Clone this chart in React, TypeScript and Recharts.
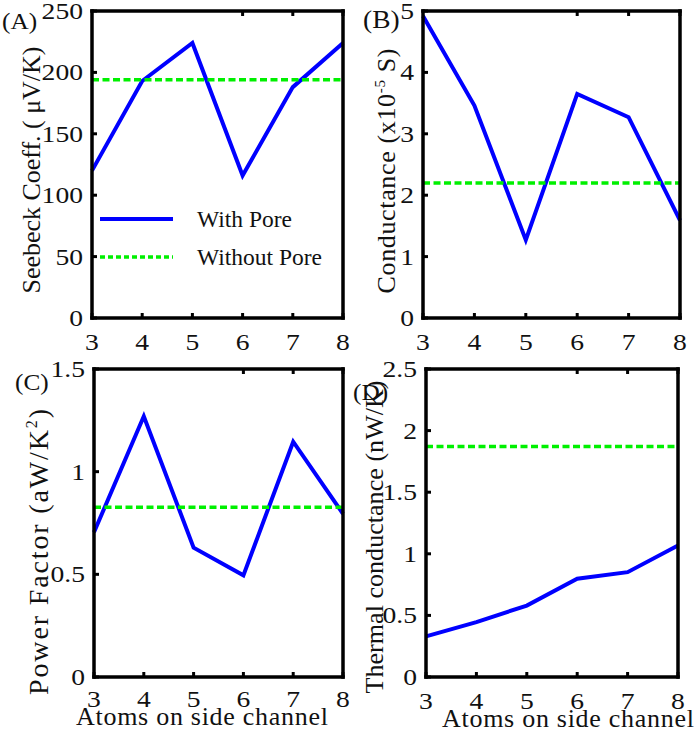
import React from 'react';
import { LineChart, Line, XAxis, YAxis, Legend } from 'recharts';

// ---------- data ----------
const atoms = [3, 4, 5, 6, 7, 8];

const seebeckWithPore = [120, 193, 224, 116, 188, 224];
const seebeckWithoutPore = 194;
const seebeckTicks = [0, 50, 100, 150, 200, 250];

const conductanceWithPore = [4.92, 3.46, 1.27, 3.65, 3.27, 1.59];
const conductanceWithoutPore = 2.2;
const conductanceTicks = [0, 1, 2, 3, 4, 5];

const powerFactorWithPore = [0.705, 1.27, 0.63, 0.495, 1.146, 0.795];
const powerFactorWithoutPore = 0.827;
const powerFactorTicks = [0, 0.5, 1, 1.5];

const thermalWithPore = [0.33, 0.446, 0.58, 0.797, 0.851, 1.068];
const thermalWithoutPore = 1.87;
const thermalTicks = [0, 0.5, 1, 1.5, 2, 2.5];

const seriesNames = ['With Pore', 'Without Pore'];
const xTitle = 'Atoms on side channel';

// ---------- styles ----------
const SERIF = '"Liberation Serif", "Times New Roman", serif';
const INK = '#111';
const BLUE = '#0000ff';
const GREEN = '#00f000';
const DASH = '7 3.5';
const TICK_LEN = 5;
const FRAME = { stroke: '#000', strokeWidth: 3.5, strokeLinecap: 'square' as const };

const buildRows = (withPore: number[], withoutPore: number) =>
  atoms.map((a, i) => ({ atoms: a, withPore: withPore[i], withoutPore }));

const LeftTick = (props: any) => {
  const { x, y, payload } = props;
  return (
    <g>
      <line x1={x} x2={x + TICK_LEN} y1={y} y2={y} stroke="#000" strokeWidth={3} />
      <text
        transform={`translate(${x - 9}, ${y + 8}) scale(1.15, 1)`}
        textAnchor="end"
        fontSize={24}
        fontFamily={SERIF}
        fill={INK}
      >
        {payload.value}
      </text>
    </g>
  );
};

const makeBottomTick = (dy: number) => (props: any) => {
  const { x, y, payload } = props;
  return (
    <g>
      <line x1={x} x2={x} y1={y} y2={y - TICK_LEN} stroke="#000" strokeWidth={3} />
      <text
        transform={`translate(${x}, ${y + dy}) scale(1.15, 1)`}
        textAnchor="middle"
        fontSize={24}
        fontFamily={SERIF}
        fill={INK}
      >
        {payload.value}
      </text>
    </g>
  );
};

const RightTick = (props: any) => {
  const { x, y } = props;
  return <line x1={x} x2={x - TICK_LEN} y1={y} y2={y} stroke="#000" strokeWidth={3} />;
};

const TopTick = (props: any) => {
  const { x, y } = props;
  return <line x1={x} x2={x} y1={y} y2={y + TICK_LEN} stroke="#000" strokeWidth={3} />;
};

const PoreLegend = (props: any) => {
  const items = props.payload || [];
  return (
    <div style={{ fontFamily: SERIF, fontSize: 23.5, color: INK }}>
      {items.map((entry: any) => {
        const dashed = entry.value === seriesNames[1];
        return (
          <div key={entry.value} style={{ display: 'flex', alignItems: 'center', height: 38 }}>
            <svg width={73} height={8} style={{ display: 'block' }}>
              <line
                x1={0}
                x2={73}
                y1={4}
                y2={4}
                stroke={entry.color}
                strokeWidth={dashed ? 3.5 : 4}
                strokeDasharray={dashed ? '5 3' : undefined}
              />
            </svg>
            <span style={{ marginLeft: 24, lineHeight: '24px' }}>{entry.value}</span>
          </div>
        );
      })}
    </div>
  );
};

type PanelProps = {
  left: number;
  top: number;
  width: number;
  height: number;
  plotLeft: number;
  plotRight: number;
  plotTop: number;
  plotBottom: number;
  rows: any[];
  yTicks: number[];
  title: React.ReactNode;
  titleX: number;
  titleY: number;
  titleLen: number;
  titleSize: number;
  tag: string;
  tagX: number;
  tagY: number;
  tagSize: number;
  xTickDy: number;
  xTitleX?: number;
  xTitleY?: number;
  legend?: boolean;
};

const Panel = (p: PanelProps) => {
  const yMax = p.yTicks[p.yTicks.length - 1];
  return (
    <div style={{ position: 'absolute', left: p.left, top: p.top }}>
      <LineChart
        width={p.width}
        height={p.height}
        data={p.rows}
        margin={{ top: p.plotTop, right: p.width - p.plotRight, bottom: 0, left: 0 }}
      >
        <XAxis
          xAxisId="b"
          dataKey="atoms"
          type="number"
          domain={[3, 8]}
          ticks={atoms}
          height={p.height - p.plotBottom}
          axisLine={FRAME}
          tickLine={false}
          tickSize={0}
          tickMargin={0}
          tick={makeBottomTick(p.xTickDy)}
          interval={0}
        />
        <XAxis
          xAxisId="t"
          orientation="top"
          mirror
          type="number"
          domain={[3, 8]}
          ticks={atoms}
          axisLine={FRAME}
          tickLine={false}
          tickSize={0}
          tickMargin={0}
          tick={TopTick}
          interval={0}
        />
        <YAxis
          yAxisId="l"
          type="number"
          domain={[0, yMax]}
          ticks={p.yTicks}
          width={p.plotLeft}
          axisLine={FRAME}
          tickLine={false}
          tickSize={0}
          tickMargin={0}
          tick={LeftTick}
          interval={0}
        />
        <YAxis
          yAxisId="r"
          orientation="right"
          mirror
          type="number"
          domain={[0, yMax]}
          ticks={p.yTicks}
          axisLine={FRAME}
          tickLine={false}
          tickSize={0}
          tickMargin={0}
          tick={RightTick}
          interval={0}
        />
        <Line
          xAxisId="b"
          yAxisId="l"
          name={seriesNames[0]}
          dataKey="withPore"
          stroke={BLUE}
          strokeWidth={4}
          dot={false}
          activeDot={false}
          isAnimationActive={false}
        />
        <Line
          xAxisId="b"
          yAxisId="l"
          name={seriesNames[1]}
          dataKey="withoutPore"
          stroke={GREEN}
          strokeWidth={3.5}
          strokeDasharray={DASH}
          dot={false}
          activeDot={false}
          isAnimationActive={false}
        />
        {p.legend ? (
          <Legend
            layout="vertical"
            align="center"
            verticalAlign="middle"
            wrapperStyle={{ left: 100, top: 200, width: 240 }}
            content={PoreLegend}
          />
        ) : null}
        <text
          transform={`translate(${p.titleX}, ${p.titleY}) rotate(-90)`}
          textAnchor="middle"
          fontSize={p.titleSize}
          fontFamily={SERIF}
          fill={INK}
          textLength={p.titleLen}
          lengthAdjust="spacing"
        >
          {p.title}
        </text>
        <text
          transform={`translate(${p.tagX}, ${p.tagY}) scale(1.1, 1)`}
          fontSize={p.tagSize}
          fontFamily={SERIF}
          fill={INK}
        >
          {p.tag}
        </text>
        {p.xTitleX !== undefined ? (
          <text
            x={p.xTitleX}
            y={p.xTitleY}
            textAnchor="middle"
            fontSize={26}
            fontFamily={SERIF}
            fill={INK}
            textLength={252}
            lengthAdjust="spacing"
          >
            {xTitle}
          </text>
        ) : null}
      </LineChart>
    </div>
  );
};

export default function App() {
  return (
    <div
      style={{
        position: 'absolute',
        left: 0,
        top: 0,
        width: 700,
        height: 729,
        background: '#fff',
        overflow: 'hidden',
      }}
    >
      <Panel
        left={0}
        top={0}
        width={350}
        height={360}
        plotLeft={92}
        plotRight={343}
        plotTop={11}
        plotBottom={318}
        rows={buildRows(seebeckWithPore, seebeckWithoutPore)}
        yTicks={seebeckTicks}
        title={'Seebeck Coeff. ( \u03bcV/K)'}
        titleX={40}
        titleY={170}
        titleLen={247}
        titleSize={26}
        tag="(A)"
        tagX={2}
        tagY={29}
        tagSize={23}
        xTickDy={32}
        legend
      />
      <Panel
        left={350}
        top={0}
        width={350}
        height={360}
        plotLeft={73}
        plotRight={330}
        plotTop={11}
        plotBottom={318}
        rows={buildRows(conductanceWithPore, conductanceWithoutPore)}
        yTicks={conductanceTicks}
        title={
          <>
            <tspan>Conductance (x10</tspan>
            <tspan fontSize={15} dy={-10}>-5</tspan>
            <tspan dy={10}> S)</tspan>
          </>
        }
        titleX={45}
        titleY={171}
        titleLen={245}
        titleSize={26}
        tag="(B)"
        tagX={13}
        tagY={28}
        tagSize={25}
        xTickDy={32}
      />
      <Panel
        left={0}
        top={360}
        width={350}
        height={369}
        plotLeft={94}
        plotRight={343}
        plotTop={9}
        plotBottom={317}
        rows={buildRows(powerFactorWithPore, powerFactorWithoutPore)}
        yTicks={powerFactorTicks}
        title={
          <>
            <tspan>Power Factor (aW/K</tspan>
            <tspan fontSize={16} dy={-11}>2</tspan>
            <tspan dy={11}>)</tspan>
          </>
        }
        titleX={48}
        titleY={192}
        titleLen={286}
        titleSize={28}
        tag="(C)"
        tagX={15}
        tagY={30}
        tagSize={23}
        xTickDy={30}
        xTitleX={202}
        xTitleY={365}
      />
      <Panel
        left={350}
        top={360}
        width={350}
        height={369}
        plotLeft={76}
        plotRight={328}
        plotTop={9}
        plotBottom={317}
        rows={buildRows(thermalWithPore, thermalWithoutPore)}
        yTicks={thermalTicks}
        title={'Thermal conductance (nW/K)'}
        titleX={33}
        titleY={177}
        titleLen={313}
        titleSize={26}
        tag="(D)"
        tagX={3}
        tagY={40}
        tagSize={23}
        xTickDy={32}
        xTitleX={218}
        xTitleY={367}
      />
    </div>
  );
}
